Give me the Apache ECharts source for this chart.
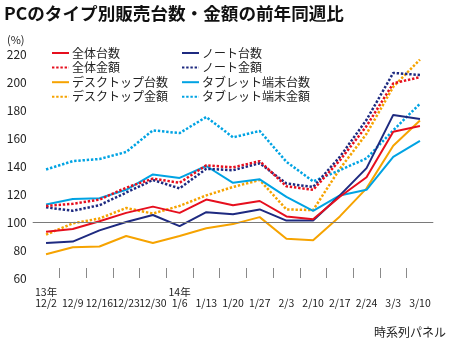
<!DOCTYPE html>
<html><head><meta charset="utf-8">
<script src="https://cdn.jsdelivr.net/npm/echarts@6/dist/echarts.min.js"></script>
<style>html,body{margin:0;padding:0;background:#fff}#c{width:450px;height:346px}</style>
</head><body><div id="c"></div>
<script>
const categories = ['12/2','12/9','12/16','12/23','12/30','1/6','1/13','1/20','1/27','2/3','2/10','2/17','2/24','3/3','3/10'];
const yearLabels = ['13年','','','','','14年','','','','','','','','',''];
const yTicks = [60, 80, 100, 120, 140, 160, 180, 200, 220];

const totalUnits   = [93, 95, 100.5, 106.5, 111, 106.5, 116, 112, 115, 104, 102, 118, 132, 164.5, 168.5];
const totalAmount  = [111.5, 113, 116, 124.5, 131, 128, 140.5, 139, 143.5, 125.5, 123, 144, 168.5, 199, 203.5];
const noteUnits    = [85, 86, 94, 100, 105, 97, 107, 105.5, 109, 101, 101, 119, 138.5, 176.5, 173.5];
const noteAmount   = [110.5, 108, 112, 121, 130, 124, 138, 137, 142, 127.5, 125, 146.5, 173, 206.5, 205];
const deskUnits    = [77, 82, 82.5, 90, 85, 90, 95.5, 98.5, 103.5, 88, 87, 104, 124, 154.5, 172.5];
const deskAmount   = [91, 99, 102.5, 110, 106, 111.5, 119, 125, 130, 109, 108.5, 138, 163, 196.5, 216];
const tabUnits     = [112.5, 116.5, 117, 123, 134, 131.5, 140, 128, 130.5, 118, 108, 119, 123, 146.5, 158];
const tabAmount    = [137.5, 143.5, 145, 150, 165.5, 163.5, 175, 160.5, 165, 143, 129, 137, 145.5, 165.5, 184.5];

const FONT = "'Noto Sans CJK JP', sans-serif";
const RED = '#e60f1e', NAVY = '#1e2a80', ORANGE = '#f6a300', CYAN = '#00a3e3';

function mk(name, data, color, dotted) {
  return {
    name, type: 'line', data, symbol: 'none', xAxisIndex: 0,
    lineStyle: { color, width: dotted ? 2.5 : 2, type: dotted ? [2.4, 1.8] : 'solid' },
    itemStyle: { color }, emphasis: { disabled: true }
  };
}

const boundaries = categories.map((c, i) => String(i)).concat([String(categories.length)]);

const series = [
  mk('デスクトップ台数', deskUnits, ORANGE, false),
  mk('デスクトップ金額', deskAmount, ORANGE, true),
  mk('タブレット端末台数', tabUnits, CYAN, false),
  mk('タブレット端末金額', tabAmount, CYAN, true),
  mk('ノート台数', noteUnits, NAVY, false),
  mk('ノート金額', noteAmount, NAVY, true),
  mk('全体台数', totalUnits, RED, false),
  mk('全体金額', totalAmount, RED, true)
];
series[0].markLine = {
  silent: true, symbol: 'none', label: { show: false },
  lineStyle: { color: '#7a7a7a', width: 1, type: 'solid' },
  data: [{ yAxis: 100 }], animation: false
};

const legendCommon = {
  orient: 'vertical', top: 47, itemWidth: 17, itemHeight: 12, itemGap: 2.6,
  padding: 0, selectedMode: false,
  itemStyle: { opacity: 0 },
  textStyle: { fontFamily: FONT, fontSize: 12, color: '#222', padding: [0, 0, 0, -2] }
};

const chart = echarts.init(document.getElementById('c'));
chart.setOption({
  animation: false,
  backgroundColor: '#fff',
  title: {
    text: 'PCのタイプ別販売台数・金額の前年同週比',
    left: 4, top: 5, padding: 0,
    textStyle: { fontFamily: FONT, fontSize: 17.6, fontWeight: 'bold', color: '#111' }
  },
  legend: [
    Object.assign({ data: ['全体台数', '全体金額', 'デスクトップ台数', 'デスクトップ金額'], left: 51 }, legendCommon),
    Object.assign({ data: ['ノート台数', 'ノート金額', 'タブレット端末台数', 'タブレット端末金額'], left: 181 }, legendCommon)
  ],
  grid: { left: 32.7, right: 16.7, top: 54, bottom: 68, containLabel: false },
  xAxis: [
    {
      type: 'category', data: categories, boundaryGap: true,
      axisLine: { show: false }, axisTick: { show: false }, splitLine: { show: false },
      axisLabel: {
        interval: 0, margin: 8, fontFamily: FONT,
        fontSize: 10.5, lineHeight: 11.5, color: '#222',
        formatter: (v, i) => yearLabels[i] + '\n' + v
      }
    },
    {
      type: 'category', data: boundaries, boundaryGap: false, position: 'bottom',
      axisLine: { show: false }, axisLabel: { show: false }, splitLine: { show: false },
      axisTick: {
        show: true, inside: true, length: 10,
        interval: (i) => i >= 1 && i <= categories.length - 1,
        lineStyle: { color: '#8a8a8a', width: 1 }
      }
    }
  ],
  yAxis: {
    type: 'value', min: yTicks[0], max: yTicks[yTicks.length - 1], interval: 20,
    axisLine: { show: false }, axisTick: { show: false }, splitLine: { show: false },
    axisLabel: { margin: 6, fontFamily: FONT, fontSize: 12, color: '#222' }
  },
  graphic: [
    { type: 'text', left: 7, top: 34, style: { text: '(%)', fontFamily: FONT, fontSize: 11, fill: '#222' } },
    { type: 'text', right: 4, top: 326, style: { text: '時系列パネル', fontFamily: FONT, fontSize: 12, fill: '#222' } }
  ],
  series
});
</script></body></html>
